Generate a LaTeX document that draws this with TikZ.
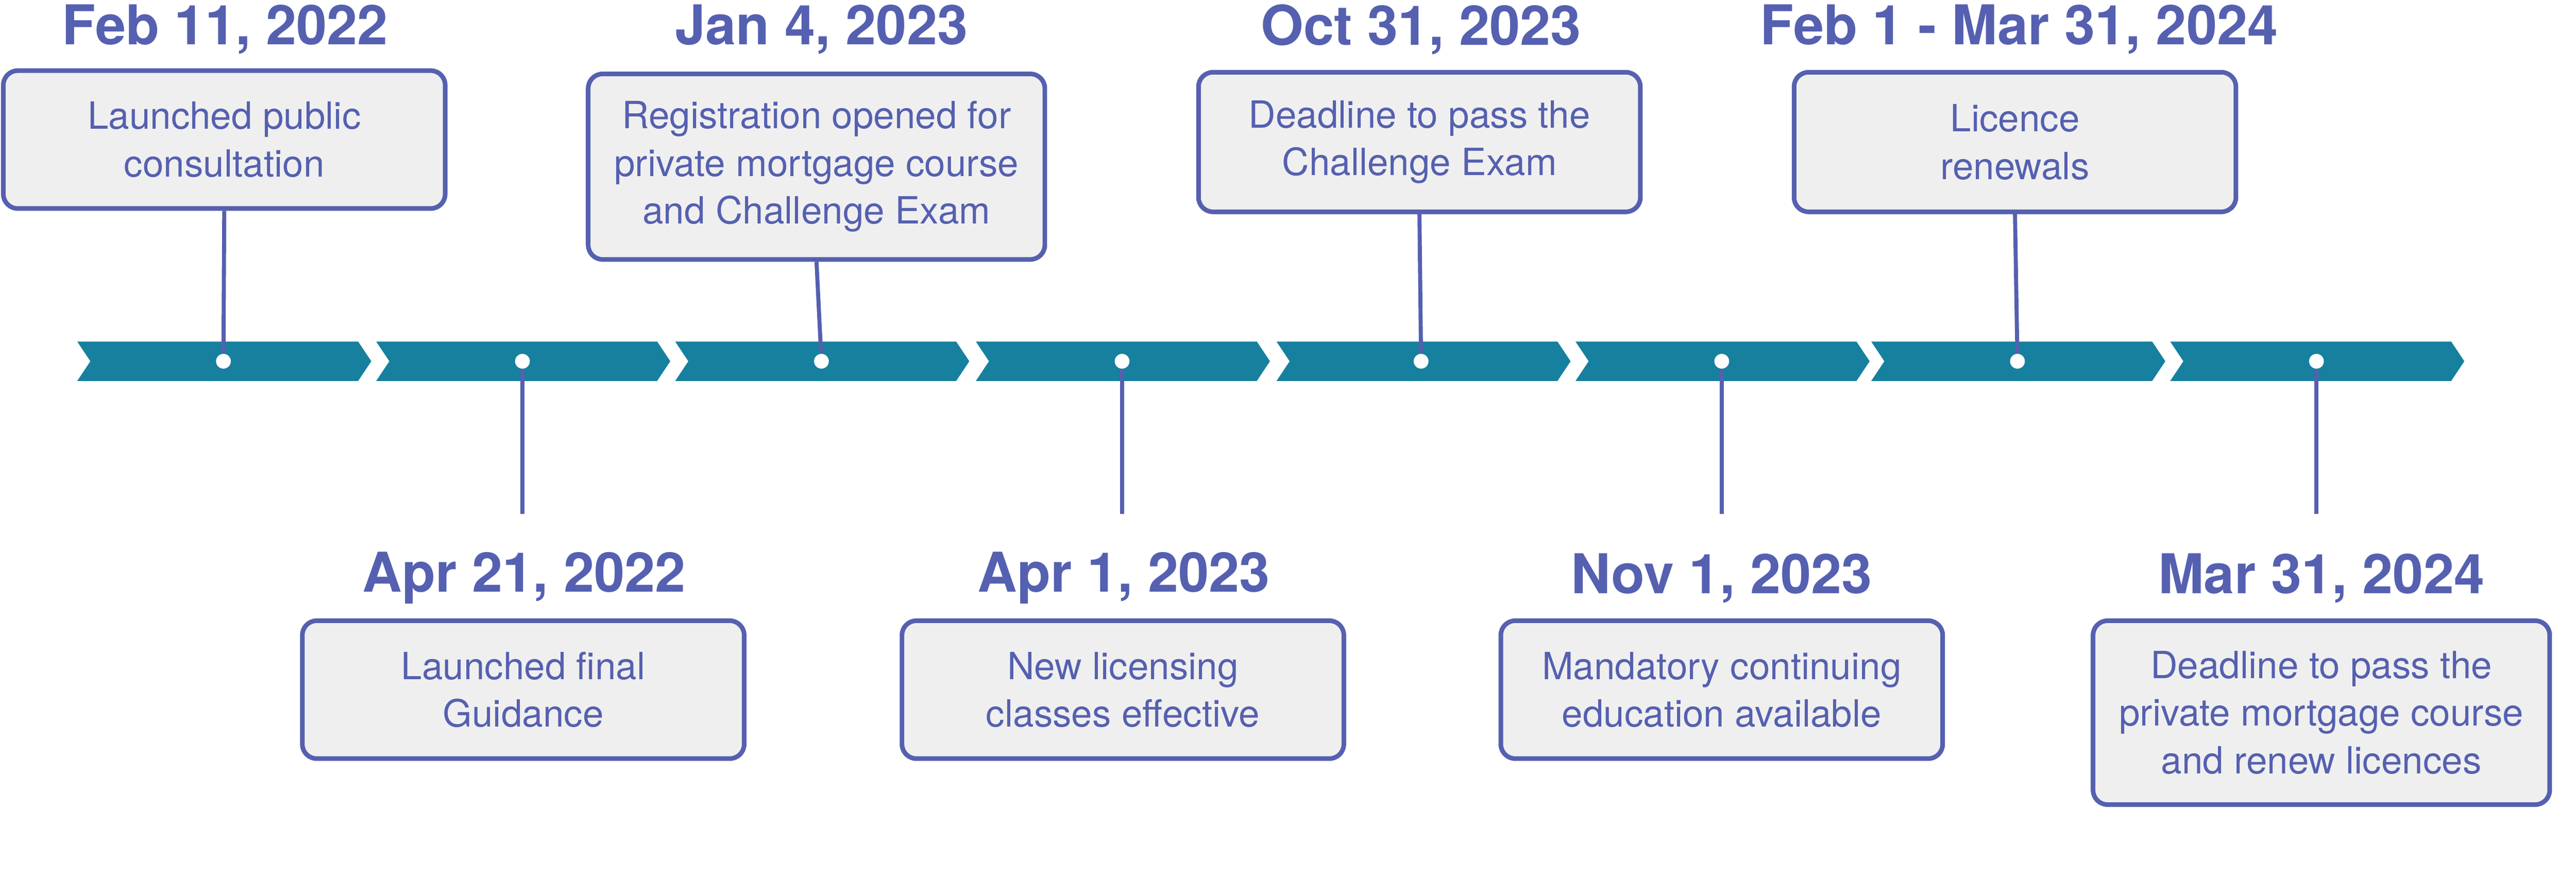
\documentclass[tikz,border=0pt]{standalone}
\usepackage{fontspec}
\setmainfont{TeX Gyre Heros}
\usepackage{tikz}
\usetikzlibrary{positioning}
\definecolor{arrowteal}{HTML}{16809E}
\definecolor{boxline}{HTML}{5560B0}
\definecolor{boxfill}{HTML}{EFEFEF}

\begin{document}
\begin{tikzpicture}[x=0.02cm,y=-0.02cm,thick]
            \tikzset{event/.style={draw=boxline, fill=boxfill, rounded corners=5pt, line width=1.6pt, text=boxline, align=center, font=\fontsize{13}{16.5}\selectfont, minimum width=5.38cm, inner sep=2pt},
                     date/.style={text=boxline, font=\bfseries\fontsize{19}{22}\selectfont},
                     stem/.style={draw=boxline, line width=1.4pt},
                     dot/.style={circle, fill=white, inner sep=0pt, minimum size=0.18cm}}
            \useasboundingbox (0,0) rectangle (1568,535);
            % chevrons
            \foreach \x [count=\i] in {47,229,411,594,777,959,1139,1321} {
                \fill[arrowteal] (\x,208) -- ++(171,0) -- ++(8,12) -- ++(-8,12) -- (\x,232) -- ++(8,-12) -- cycle;
            }
            \foreach \x [count=\i] in {136,318,500,683,865,1048,1228,1410}
                \node[dot] (d\i) at (\x,220) {};
            % top events
            \node[event, minimum height=1.68cm] (B1) at (136.5,85) {Launched public\\consultation};
            \node[event, minimum height=2.26cm, minimum width=5.56cm] (B3) at (497,101.5) {Registration opened for\\private mortgage course\\and Challenge Exam};
            \node[event, minimum height=1.7cm] (B5) at (864,86.5) {Deadline to pass the\\Challenge Exam};
            \node[event, minimum height=1.7cm] (B7) at (1226.5,86.5) {Licence\\renewals};
            \node[date] (T1) at (137,18) {Feb 11, 2022};
            \node[date] (T3) at (500,18) {Jan 4, 2023};
            \node[date] (T5) at (865,18) {Oct 31, 2023};
            \node[date] (T7) at (1229,18) {Feb 1 - Mar 31, 2024};
            % bottom events
            \node[event, minimum height=1.68cm] (B2) at (318.5,420) {Launched final\\Guidance};
            \node[event, minimum height=1.68cm] (B4) at (683.5,420) {New licensing\\classes effective};
            \node[event, minimum height=1.68cm] (B6) at (1048,420) {Mandatory continuing\\education available};
            \node[event, minimum height=2.24cm, minimum width=5.56cm] (B8) at (1413,434) {Deadline to pass the\\private mortgage course\\and renew licences};
            \node[date] (T2) at (319,352) {Apr 21, 2022};
            \node[date] (T4) at (684,352) {Apr 1, 2023};
            \node[date] (T6) at (1048,352) {Nov 1, 2023};
            \node[date] (T8) at (1413,352) {Mar 31, 2024};
            % stems
            \foreach \i in {1,3,5,7}
                \draw[stem] (B\i.south) -- (d\i);
            \foreach \i in {2,4,6,8} {
                \coordinate (e\i) at ([yshift=-1.86cm]d\i);
                \draw[stem] (d\i) -- (e\i);
            }
\end{tikzpicture}
\end{document}
